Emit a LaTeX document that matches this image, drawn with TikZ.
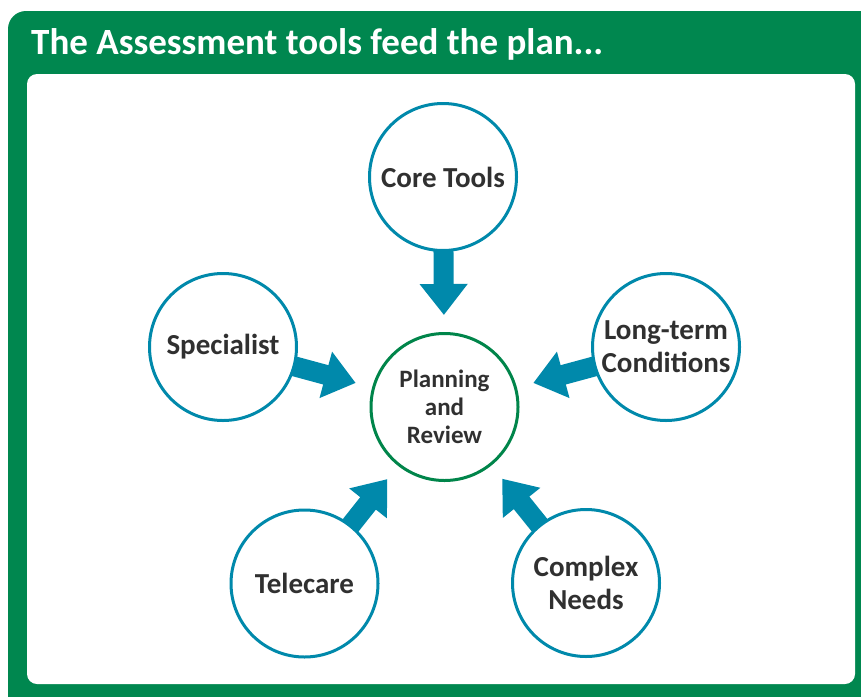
\documentclass[tikz,border=0pt]{standalone}
\usepackage{fontspec}
\setmainfont{Carlito}
\usetikzlibrary{arrows.meta}
\definecolor{frameGreen}{HTML}{00874F}
\definecolor{planGreen}{HTML}{00854A}
\definecolor{toolBlue}{HTML}{0089AB}
\definecolor{textGray}{HTML}{303030}
\pgfdeclarelayer{back}
\pgfdeclarelayer{arrowlayer}
\pgfsetlayers{back,arrowlayer,main}
\begin{document}
\begin{tikzpicture}[x=1pt,y=-1pt,
  tool/.style={circle,draw=toolBlue,fill=white,line width=3pt,minimum size=147pt,inner sep=0pt,
    align=center,text=textGray,font=\fontsize{29}{33}\selectfont\bfseries},
  plancircle/.style={circle,draw=planGreen,fill=white,line width=3pt,minimum size=147pt,inner sep=0pt,
    align=center,text=textGray,font=\fontsize{25}{28}\selectfont\bfseries},
  feed/.style={draw=toolBlue,line width=20pt,-{Triangle[width=46pt,length=31pt]},shorten >=17pt,shorten <=-6pt}]
\useasboundingbox (0,0) rectangle (861,696);
\begin{pgfonlayer}{back}
  \fill[frameGreen,rounded corners=18pt] (8,11) rectangle (880,715);
  \fill[white,rounded corners=10pt] (27,74) rectangle (855,684);
\end{pgfonlayer}
\node[anchor=base west,text=white,font=\fontsize{37}{42}\selectfont\bfseries,inner sep=0pt] (title) at (31,54) {The Assessment tools feed the plan...};
\node[plancircle] (plan) at (444.5,407) {Planning\\and\\Review};
\node[tool] (core) at (443,177) {Core Tools};
\node[tool] (spec) at (223,347) {Specialist};
\node[tool] (long) at (666,347) {Long-term\\Conditions};
\node[tool] (tele) at (304.5,583.5) {Telecare};
\node[tool] (comp) at (586,583) {Complex\\Needs};
\begin{pgfonlayer}{arrowlayer}
  \draw[feed] (core) -- (plan);
  \draw[feed] (spec) -- (plan);
  \draw[feed] (long) -- (plan);
  \draw[feed] (tele) -- (plan);
  \draw[feed] (comp) -- (plan);
\end{pgfonlayer}
\end{tikzpicture}
\end{document}
